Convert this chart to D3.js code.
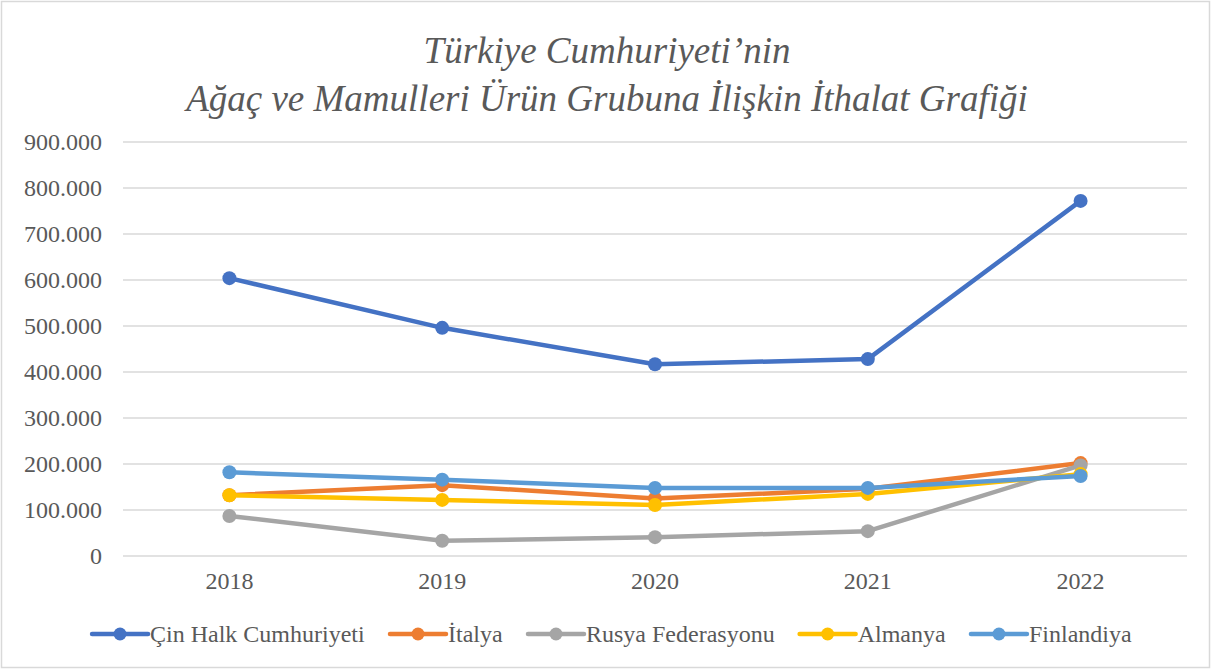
<!DOCTYPE html>
<html>
<head>
<meta charset="utf-8">
<script src="https://cdn.jsdelivr.net/npm/d3@7"></script>
<style>
  body { margin: 0; background: #fff; }
</style>
</head>
<body>
<div id="container"></div>
<script>
// Width and height
let w = 1212;
let h = 670;
let serif = "Liberation Serif";
let textColor = "#595959";

// Data
let years = ["2018", "2019", "2020", "2021", "2022"];
let seriesNames = ["Çin Halk Cumhuriyeti", "İtalya", "Rusya Federasyonu", "Almanya", "Finlandiya"];
let seriesColors = ["#4472C4", "#ED7D31", "#A5A5A5", "#FFC000", "#5B9BD5"];
let cin = [604000, 496000, 417000, 428000, 772000];
let italya = [132000, 154000, 125000, 146000, 202000];
let rusya = [87000, 33000, 41000, 54000, 197000];
let almanya = [132000, 122000, 111000, 135000, 178000];
let finlandiya = [182000, 166000, 148000, 148000, 174000];
let yTicks = [0, 100000, 200000, 300000, 400000, 500000, 600000, 700000, 800000, 900000];
let allSeries = [cin, italya, rusya, almanya, finlandiya];

let svg = d3.select("#container")
  .append("svg")
  .attr("width", w)
  .attr("height", h);

// chart area border
svg.append("rect")
  .attr("x", 1.5).attr("y", 1.5)
  .attr("width", w - 4).attr("height", h - 4)
  .attr("fill", "#fff")
  .attr("stroke", "#D9D9D9")
  .attr("stroke-width", 1.5);

// title
let title = svg.append("text")
  .attr("text-anchor", "middle")
  .attr("font-family", serif)
  .style("font-family", serif)
  .style("fill", textColor)
  .style("font-style", "italic")
  .style("font-size", "37px");
title.append("tspan").attr("x", 607).attr("y", 63).text("Türkiye Cumhuriyeti’nin");
title.append("tspan").attr("x", 607).attr("y", 111).text("Ağaç ve Mamulleri Ürün Grubuna İlişkin İthalat Grafiği");

let margin = { left: 123, right: 1187, top: 142, bottom: 556 };

let x = d3.scaleBand()
  .domain(years)
  .range([margin.left, margin.right]);

let y = d3.scaleLinear()
  .domain([0, 900000])
  .range([margin.bottom, margin.top]);

let fmt = function(v) {
  return v === 0 ? "0" : d3.format(",")(v).replace(/,/g, ".");
};

// gridlines
svg.append("g")
  .selectAll("line")
  .data(yTicks)
  .enter()
  .append("line")
    .attr("x1", margin.left)
    .attr("x2", margin.right)
    .attr("y1", function(d) { return y(d); })
    .attr("y2", function(d) { return y(d); })
    .attr("stroke", "#D9D9D9")
    .attr("stroke-width", 1.5);

// y axis labels
let yAxis = d3.axisLeft(y).tickValues(yTicks).tickFormat(fmt).tickSize(0).tickPadding(21);
let yg = svg.append("g").attr("transform", "translate(" + margin.left + ",0)").call(yAxis);
yg.attr("font-family", serif).attr("font-size", 24);
yg.select(".domain").remove();
yg.selectAll("text")
  .style("fill", textColor);

// x axis labels
let xAxis = d3.axisBottom(x).tickSize(0).tickPadding(16);
let xg = svg.append("g").attr("transform", "translate(0," + margin.bottom + ")").call(xAxis);
xg.attr("font-family", serif).attr("font-size", 24);
xg.select(".domain").remove();
xg.selectAll("text")
  .style("fill", textColor);

// lines and markers
let line = d3.line()
  .x(function(d, i) { return x(years[i]) + x.bandwidth() / 2; })
  .y(function(d) { return y(d); });

allSeries.forEach(function(values, k) {
  let g = svg.append("g");
  g.append("path")
    .datum(values)
    .attr("d", line)
    .attr("fill", "none")
    .attr("stroke", seriesColors[k])
    .attr("stroke-width", 4.5)
    .attr("stroke-linejoin", "round")
    .attr("stroke-linecap", "round");
  g.selectAll("circle")
    .data(values)
    .enter()
    .append("circle")
      .attr("cx", function(d, i) { return x(years[i]) + x.bandwidth() / 2; })
      .attr("cy", function(d) { return y(d); })
      .attr("r", 7)
      .attr("fill", seriesColors[k]);
});

// legend
let legend = svg.append("g");
let legendY = 634;
let items = legend.selectAll("g")
  .data(seriesNames)
  .enter()
  .append("g");
items.append("line")
  .attr("x1", 0).attr("x2", 56)
  .attr("y1", 0).attr("y2", 0)
  .attr("stroke", function(d, i) { return seriesColors[i]; })
  .attr("stroke-width", 4.5)
  .attr("stroke-linecap", "round");
items.append("circle")
  .attr("cx", 28).attr("cy", 0).attr("r", 6.5)
  .attr("fill", function(d, i) { return seriesColors[i]; });
items.append("text")
  .attr("x", 58).attr("y", 8)
  .attr("font-family", serif)
  .style("font-family", serif)
  .style("fill", textColor)
  .style("font-size", "24px")
  .text(function(d) { return d; });

// lay out legend items side by side, centered
let widths = [];
items.each(function() { widths.push(this.getBBox().width); });
let gap = 25;
let total = d3.sum(widths) + gap * (widths.length - 1);
let cursor = (w - total) / 2 + 6;
items.attr("transform", function(d, i) {
  let t = "translate(" + cursor + "," + legendY + ")";
  cursor += widths[i] + gap;
  return t;
});
</script>
</body>
</html>
